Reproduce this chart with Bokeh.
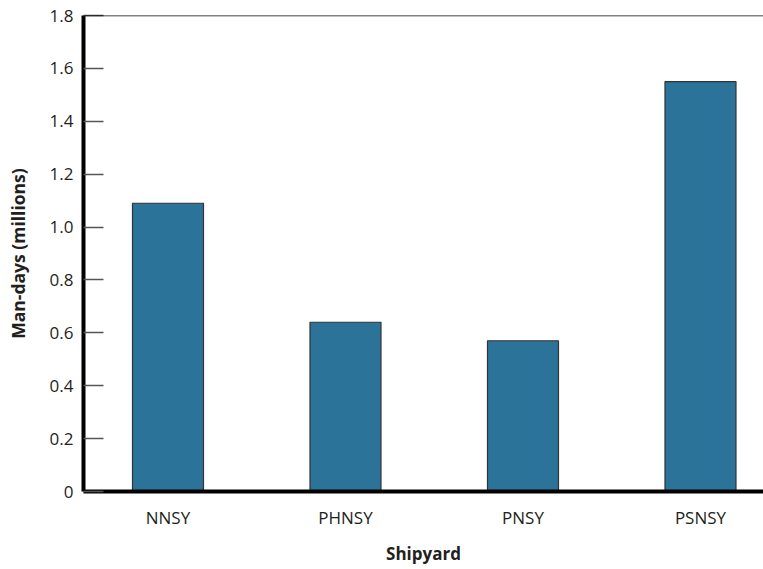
from bokeh.plotting import figure
from bokeh.models import FixedTicker, Span, Range1d
from bokeh.embed import file_html
from bokeh.resources import INLINE

shipyards = ["NNSY", "PHNSY", "PNSY", "PSNSY"]
man_days = [1.09, 0.64, 0.57, 1.55]
y_ticks = [0, 0.2, 0.4, 0.6, 0.8, 1.0, 1.2, 1.4, 1.6, 1.8]
y_tick_labels = ["0", "0.2", "0.4", "0.6", "0.8", "1.0", "1.2", "1.4", "1.6", "1.8"]

xs = list(range(1, len(shipyards) + 1))

FONT = "Open Sans"
TXT = "#231f20"

p = figure(width=763, height=569, output_backend="svg", toolbar_location=None,
           x_range=Range1d(0.524, 4.355), y_range=Range1d(0, 1.8),
           min_border_left=83, min_border_right=0, min_border_top=15, min_border_bottom=78)
p.outline_line_color = None
p.xgrid.grid_line_color = None
p.ygrid.grid_line_color = None
p.background_fill_color = "white"
p.border_fill_color = "white"

p.vbar(x=xs, top=man_days, width=0.40, bottom=0,
       fill_color="#2b7399", line_color="#333333", line_width=1.2)

p.add_layout(Span(location=1.8, dimension="width", line_color="black", line_width=1.5))

# y axis
ya = p.yaxis[0]
ya.ticker = FixedTicker(ticks=y_ticks)
ya.major_label_overrides = {t: l for t, l in zip(y_ticks, y_tick_labels)}
ya.axis_line_width = 4
ya.axis_line_color = "black"
ya.major_tick_in = 20
ya.major_tick_out = 0
ya.major_tick_line_color = "#555555"
ya.major_tick_line_width = 1.5
ya.minor_tick_line_color = None
ya.major_label_standoff = 10
ya.major_label_text_font = FONT
ya.major_label_text_font_size = "17px"
ya.major_label_text_color = TXT
ya.axis_label = "Man-days (millions)"
ya.axis_label_text_font = FONT
ya.axis_label_text_font_size = "17.5px"
ya.axis_label_text_font_style = "bold"
ya.axis_label_text_color = TXT
ya.axis_label_standoff = 17

# x axis
xa = p.xaxis[0]
xa.ticker = FixedTicker(ticks=xs)
xa.major_label_overrides = {x: s for x, s in zip(xs, shipyards)}
xa.axis_line_width = 4
xa.axis_line_color = "black"
xa.major_tick_line_color = None
xa.minor_tick_line_color = None
xa.major_label_standoff = 8
xa.major_label_text_font = FONT
xa.major_label_text_font_size = "17px"
xa.major_label_text_color = TXT
xa.axis_label = "Shipyard"
xa.axis_label_text_font = FONT
xa.axis_label_text_font_size = "17px"
xa.axis_label_text_font_style = "bold"
xa.axis_label_text_color = TXT
xa.axis_label_standoff = 10

open("out.html", "w").write(file_html(p, INLINE))
